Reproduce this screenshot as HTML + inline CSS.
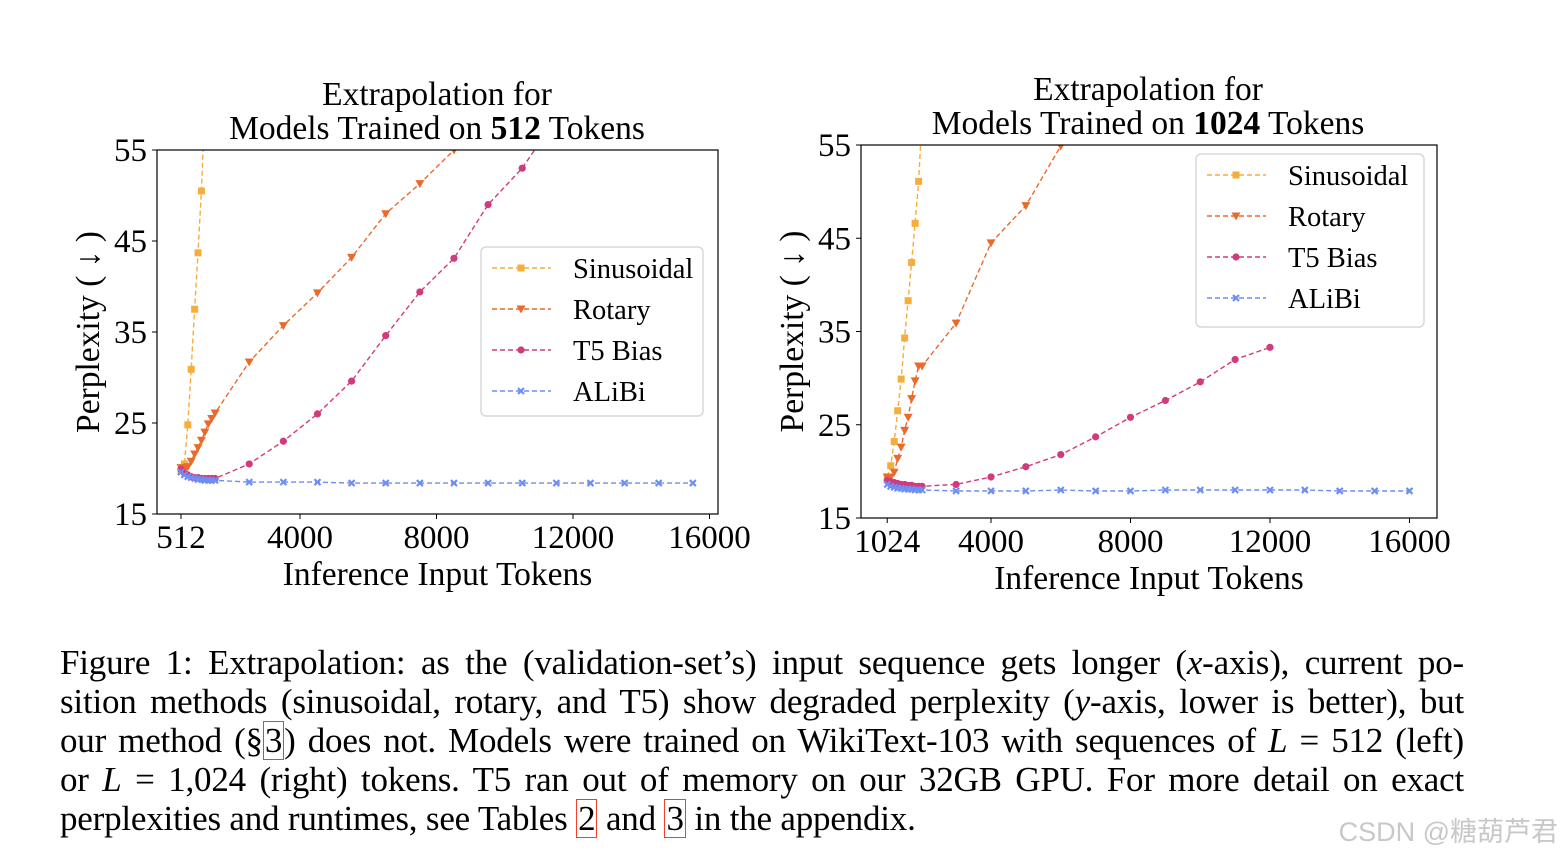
<!DOCTYPE html>
<html><head><meta charset="utf-8">
<style>
body{margin:0;background:#fff;width:1564px;height:857px;overflow:hidden;position:relative;font-family:"Liberation Serif",serif;}
svg{position:absolute;left:0;top:0}
.cap{position:absolute;left:60px;width:1404px;top:643px;font-size:35px;line-height:39px;color:#000;letter-spacing:-0.2px}
.cap div{text-align:justify;text-align-last:justify;white-space:nowrap;height:39px}
.cap div.last{text-align-last:left}
.rb{outline:1.5px solid #f0402a;outline-offset:-1px;padding:0 2px}
.wm{position:absolute;right:6px;bottom:8px;font-family:"Liberation Sans","Noto Sans CJK SC",sans-serif;font-size:27px;color:#c8c8c8}
</style></head><body>
<svg id="chart" width="1564" height="640"></svg>
<div class="cap">
<div>Figure 1: Extrapolation: as the (validation-set’s) input sequence gets longer (<i>x</i>-axis), current po-</div>
<div>sition methods (sinusoidal, rotary, and T5) show degraded perplexity (<i>y</i>-axis, lower is better), but</div>
<div>our method (§<span class="rb">3</span>) does not. Models were trained on WikiText-103 with sequences of <i>L</i> = 512 (left)</div>
<div>or <i>L</i> = 1,024 (right) tokens. T5 ran out of memory on our 32GB GPU. For more detail on exact</div>
<div class="last">perplexities and runtimes, see Tables <span class="rb">2</span> and <span class="rb">3</span> in the appendix.</div>
</div>
<div class="wm">CSDN @糖葫芦君</div>
<script>
const seriesNames=["Sinusoidal","Rotary","T5 Bias","ALiBi"];
const colors=["#f5ad3c","#ea6a2c","#d13b7d","#6e8ef5"];
const yTicks=[15,25,35,45,55];
const leftXTicks=[512,4000,8000,12000,16000];
const rightXTicks=[1024,4000,8000,12000,16000];
const leftSinX=[512,612,712,812,912,1012,1112,1212];
const leftSinY=[19.8,20.5,24.8,30.9,37.5,43.7,50.5,60];
const leftRotX=[512,612,712,812,912,1012,1112,1212,1312,1412,1512,2512,3512,4512,5512,6512,7512,8512,9512];
const leftRotY=[20.1,19.9,20.2,20.8,21.6,22.3,23.1,24.0,24.9,25.5,26.1,31.7,35.7,39.3,43.2,48.0,51.3,55.0,58.5];
const leftT5X=[512,612,712,812,912,1012,1112,1212,1312,1412,1512,2512,3512,4512,5512,6512,7512,8512,9512,10512,11512];
const leftT5Y=[19.9,19.5,19.3,19.1,19.0,19.0,18.9,18.9,18.9,18.9,18.9,20.5,23.0,26.0,29.6,34.6,39.4,43.1,49.0,53.0,58.5];
const leftAliX=[512,612,712,812,912,1012,1112,1212,1312,1412,1512,2512,3512,4512,5512,6512,7512,8512,9512,10512,11512,12512,13512,14512,15512];
const leftAliY=[19.6,19.3,19.1,19.0,18.9,18.8,18.8,18.7,18.7,18.7,18.7,18.5,18.5,18.5,18.4,18.4,18.4,18.4,18.4,18.4,18.4,18.4,18.4,18.4,18.4];
const rightSinX=[1024,1124,1224,1324,1424,1524,1624,1724,1824,1924,2024];
const rightSinY=[19.4,20.6,23.2,26.5,29.9,34.3,38.3,42.4,46.6,51.1,58];
const rightRotX=[1024,1124,1224,1324,1424,1524,1624,1724,1824,1924,2024,3000,4000,5000,6000,7000];
const rightRotY=[19.4,19.4,19.9,21.4,22.6,24.4,25.8,27.8,29.7,31.3,31.3,35.9,44.5,48.5,54.9,62];
const rightT5X=[1024,1124,1224,1324,1424,1524,1624,1724,1824,1924,2024,3000,4000,5000,6000,7000,8000,9000,10000,11000,12000];
const rightT5Y=[19.0,18.9,18.8,18.7,18.6,18.6,18.5,18.5,18.4,18.4,18.4,18.6,19.4,20.5,21.8,23.7,25.8,27.6,29.6,32.0,33.3];
const rightAliX=[1024,1124,1224,1324,1424,1524,1624,1724,1824,1924,2024,3000,4000,5000,6000,7000,8000,9000,10000,11000,12000,13000,14000,15000,16000];
const rightAliY=[18.6,18.4,18.3,18.2,18.2,18.1,18.1,18.1,18.0,18.0,18.0,17.9,17.9,17.9,18.0,17.9,17.9,18.0,18.0,18.0,18.0,18.0,17.9,17.9,17.9];

const NS="http://www.w3.org/2000/svg";
const svg=document.getElementById('chart');
function mk(tag,attrs,parent){const e=document.createElementNS(NS,tag);for(const k in attrs)e.setAttribute(k,attrs[k]);(parent||svg).appendChild(e);return e;}
function txt(s,attrs,parent){const e=mk('text',attrs,parent);e.textContent=s;return e;}

function marker(g,type,x,y,c){
  let e;
  if(type===0){e=mk('rect',{x:x-3.5,y:y-3.5,width:7,height:7,fill:c},g);}
  else if(type===1){e=mk('polygon',{points:`${x-4.5},${y-3.5} ${x+4.5},${y-3.5} ${x},${y+4.5}`,fill:c},g);}
  else if(type===2){e=mk('circle',{cx:x,cy:y,r:3.6,fill:c},g);}
  else {e=mk('path',{d:`M${x-3},${y-3}L${x+3},${y+3}M${x-3},${y+3}L${x+3},${y-3}`,stroke:c,'stroke-width':2.2},g);}
  return e;
}

function drawChart(o){
  const g=mk('g',{});
  
  
  const X=v=>o.x0px+(v-o.x0)*o.xs;
  const Y=v=>o.bottom-(v-15)*(o.bottom-o.top)/40;
  const cid=o.name+'-clip';
  const cp=mk('clipPath',{id:cid},g);
  mk('rect',{x:o.left,y:o.top,width:o.right-o.left,height:o.bottom-o.top},cp);
  o.series.forEach((s,i)=>{
    const sg=mk('g',{'clip-path':`url(#${cid})`},g);
    
    
    const pts=s[0].map((xv,j)=>X(xv).toFixed(1)+','+Y(s[1][j]).toFixed(1)).join(' ');
    mk('polyline',{points:pts,fill:'none',stroke:colors[i],'stroke-width':1.4,'stroke-dasharray':'5,3'},sg);
    s[0].forEach((xv,j)=>{const m=marker(sg,i,X(xv),Y(s[1][j]),colors[i]);
      
      });
  });
  const fr=mk('rect',{x:o.left,y:o.top,width:o.right-o.left,height:o.bottom-o.top,fill:'none',stroke:'#000','stroke-width':1.2},g);
  
  
  yTicks.forEach(t=>{const y=Y(t);mk('line',{x1:o.left-5,x2:o.left,y1:y,y2:y,stroke:'#000','stroke-width':1},g);
    const l=txt(String(t),{x:o.left-10,y:y+11,'text-anchor':'end','font-size':33,'font-family':'Liberation Serif, serif'},g);
    
    });
  o.xTicks.forEach(t=>{const x=X(t);mk('line',{x1:x,x2:x,y1:o.bottom,y2:o.bottom+5,stroke:'#000','stroke-width':1},g);
    const l=txt(String(t),{x:x,y:o.bottom+34,'text-anchor':'middle','font-size':33,'font-family':'Liberation Serif, serif'},g);
    
    });
  const xt=txt('Inference Input Tokens',{x:(o.left+o.right)/2,y:o.bottom+71,'text-anchor':'middle','font-size':33.5,'font-family':'Liberation Serif, serif'},g);
  
  
  const yt=txt('Perplexity ( ↓ )',{x:0,y:0,transform:`translate(${o.left-58},${(o.top+o.bottom)/2}) rotate(-90)`,'text-anchor':'middle','font-size':33.5,'font-family':'Liberation Serif, DejaVu Sans, serif'},g);
  
  
  const t1=txt('Extrapolation for',{x:o.tcx,y:o.top-45,'text-anchor':'middle','font-size':33.5,'font-family':'Liberation Serif, serif'},g);
  
  
  const t2=mk('text',{x:o.tcx,y:o.top-11,'text-anchor':'middle','font-size':33.5,'font-family':'Liberation Serif, serif'},g);
  t2.innerHTML=`Models Trained on <tspan font-weight="bold">${o.trained}</tspan> Tokens`;
  
  
  const lg=mk('g',{},g);
  
  
  mk('rect',{x:o.lx,y:o.ly,width:o.lw,height:o.lh,rx:5,fill:'#fff',stroke:'#d8d8d8','stroke-width':1.5},lg);
  seriesNames.forEach((n,i)=>{const y=o.ly+21+i*41;
    const e=mk('g',{},lg);
    
    
    mk('line',{x1:o.lx+11,x2:o.lx+70,y1:y,y2:y,stroke:colors[i],'stroke-width':1.4,'stroke-dasharray':'5,3'},e);
    marker(e,i,o.lx+40,y,colors[i]);
    txt(n,{x:o.lx+92,y:y+10,'font-size':28.5,'font-family':'Liberation Serif, serif'},e);});
}

drawChart({name:'left-chart',left:157,right:718,top:150,bottom:514,x0:4000,x0px:300,xs:136.5/4000,
  xTicks:leftXTicks,trained:'512',tcx:437,lx:481,ly:247,lw:222,lh:169,
  series:[[leftSinX,leftSinY],[leftRotX,leftRotY],[leftT5X,leftT5Y],[leftAliX,leftAliY]]});
drawChart({name:'right-chart',left:861,right:1437,top:145,bottom:518,x0:4000,x0px:991,xs:139.5/4000,
  xTicks:rightXTicks,trained:'1024',tcx:1148,lx:1196,ly:154,lw:228,lh:173,
  series:[[rightSinX,rightSinY],[rightRotX,rightRotY],[rightT5X,rightT5Y],[rightAliX,rightAliY]]});
</script>
</body></html>
